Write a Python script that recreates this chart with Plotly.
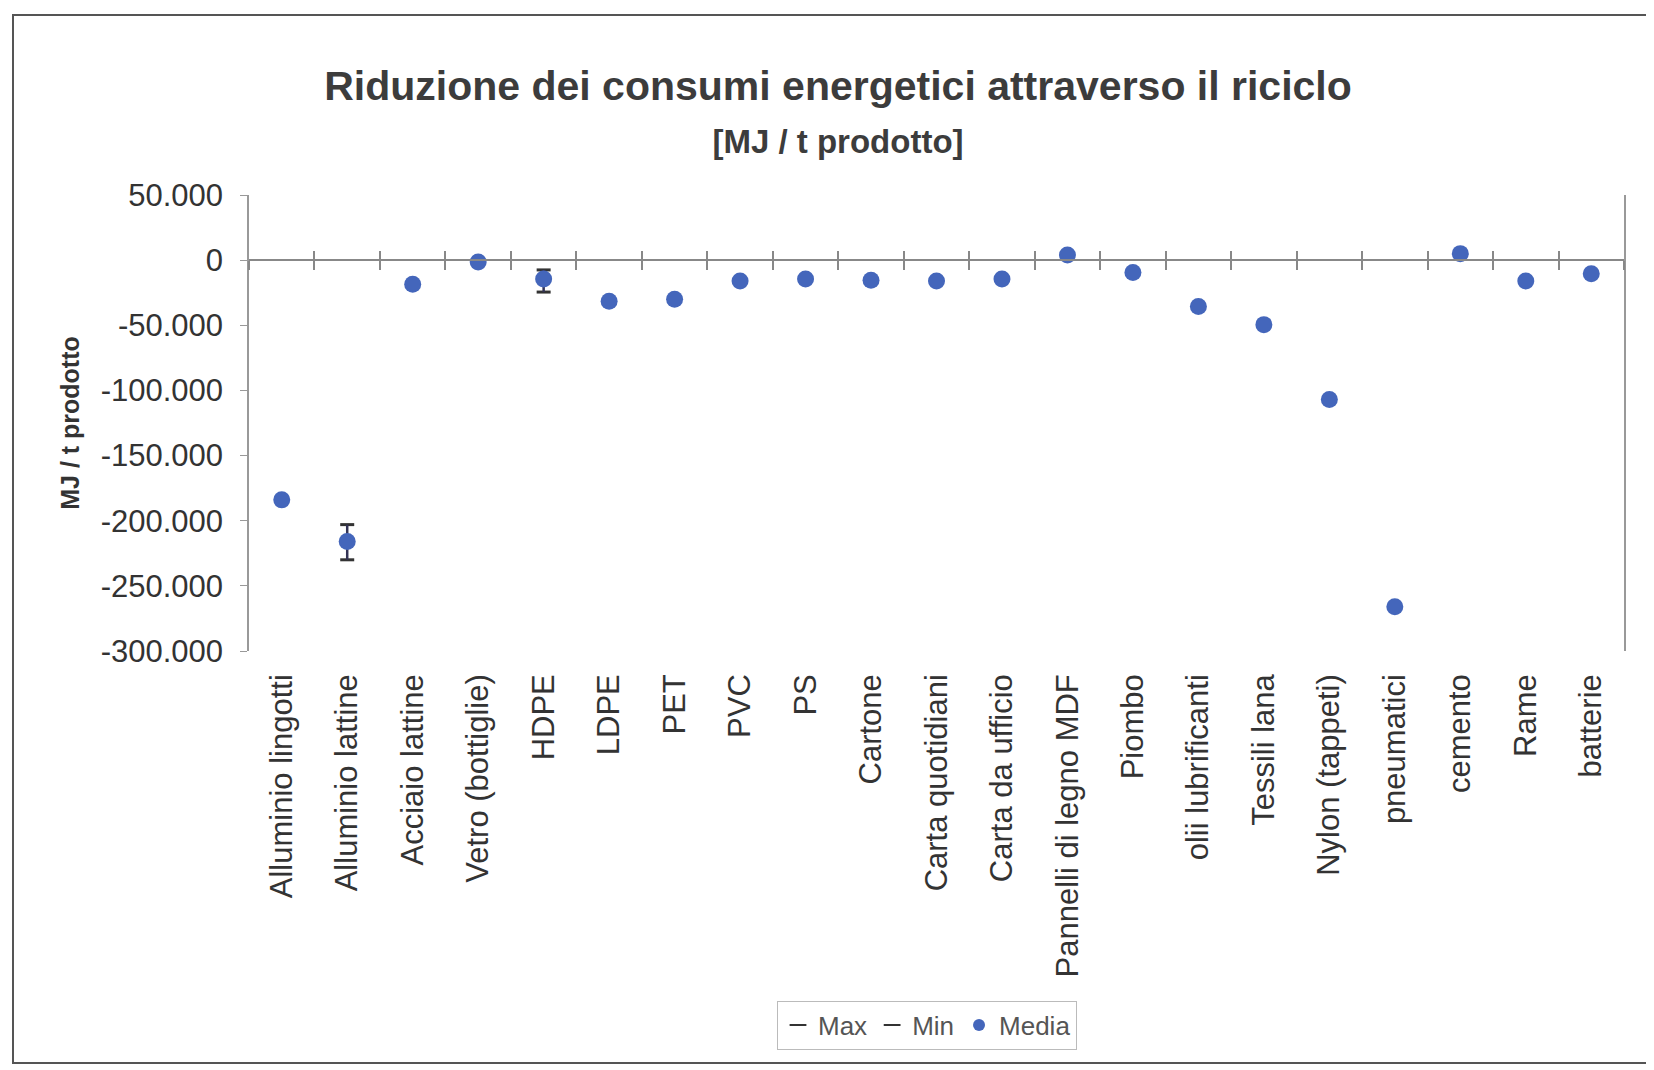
import plotly.graph_objects as go

categorie = ['Alluminio lingotti', 'Alluminio lattine', 'Acciaio lattine', 'Vetro (bottiglie)',
             'HDPE', 'LDPE', 'PET', 'PVC', 'PS', 'Cartone', 'Carta quotidiani',
             'Carta da ufficio', 'Pannelli di legno MDF', 'Piombo', 'olii lubrificanti',
             'Tessili lana', 'Nylon (tappeti)', 'pneumatici', 'cemento', 'Rame', 'batterie']
media = [-184000, -216000, -18500, -1500, -14500, -31500, -30000, -16000, -14500, -15500,
         -16000, -14500, 4000, -9500, -35500, -49500, -107000, -266000, 5000, -16000, -10500]
massimo = [-184000, -203000, -18500, -1500, -7500, -31500, -30000, -16000, -14500, -15500,
           -16000, -14500, 4000, -9500, -35500, -49500, -107000, -266000, 5000, -16000, -10500]
minimo = [-184000, -230000, -18500, -1500, -24500, -31500, -30000, -16000, -14500, -15500,
          -16000, -14500, 4000, -9500, -35500, -49500, -107000, -266000, 5000, -16000, -10500]

y_tick_vals = [50000, 0, -50000, -100000, -150000, -200000, -250000, -300000]
y_tick_text = ['50.000', '0', '-50.000', '-100.000', '-150.000', '-200.000', '-250.000', '-300.000']
y_min, y_max = -300000, 50000

FONT = 'Liberation Sans, Arial'
W, H = 1654, 1070
OFF = 8  # page body margin
L, R, T, B = 241, 38, 187, 427
pw, ph = W - L - R, H - T - B

def px_x(x):
    return (x - OFF - L) / pw

def px_y(y):
    return (H - B - (y - OFF)) / ph

err_plus = [mx - m for mx, m in zip(massimo, media)]
err_minus = [m - mn for mn, m in zip(minimo, media)]

fig = go.Figure()
fig.add_trace(go.Scatter(x=categorie, y=massimo, mode='markers', name='Max',
                         marker=dict(symbol='line-ew', size=10, line=dict(width=3, color='#333333'))))
fig.add_trace(go.Scatter(x=categorie, y=minimo, mode='markers', name='Min',
                         marker=dict(symbol='line-ew', size=10, line=dict(width=3, color='#333333'))))
fig.add_trace(go.Scatter(x=categorie, y=media, mode='markers', name='Media',
                         marker=dict(symbol='circle', size=17, color='#4466bb'),
                         error_y=dict(type='data', array=err_plus, arrayminus=err_minus,
                                      thickness=2.5, width=0, color='#333355')))
# invisible copies so the zero-crossing category axes get their categories
for ax in ['x2', 'x3']:
    fig.add_trace(go.Scatter(x=categorie, y=media, mode='markers', xaxis=ax, yaxis='y',
                             marker=dict(opacity=0), showlegend=False, hoverinfo='skip'))

zero_pos = (0 - y_min) / (y_max - y_min)
x_range = [-0.5, len(categorie) - 0.5]

fig.update_layout(
    width=W, height=H,
    margin=dict(l=L, r=R, t=T, b=B),
    paper_bgcolor='white', plot_bgcolor='white',
    font=dict(family=FONT, color='#333333'),
    title=dict(text='<b>Riduzione dei consumi energetici attraverso il riciclo</b><br>'
                    '<span style="font-size:33px"><b>[MJ / t prodotto]</b></span>',
               x=px_x(838), xanchor='center', xref='paper', y=1 - 92 / H, yanchor='top',
               font=dict(family=FONT, size=41, color='#3c3c3c')),
    xaxis=dict(type='category', categoryarray=categorie, categoryorder='array', range=x_range,
               showline=False, ticks='', showgrid=False, tickangle=-90,
               ticklabelstandoff=16, tickfont=dict(size=31, color='#333333')),
    xaxis2=dict(type='category', categoryarray=categorie, categoryorder='array',
                overlaying='x', matches='x', anchor='free', position=zero_pos,
                showline=True, linecolor='#888888', linewidth=1.5,
                ticks='outside', tickson='boundaries', ticklen=9, tickcolor='#888888',
                tickwidth=1.5, showticklabels=False, showgrid=False),
    xaxis3=dict(type='category', categoryarray=categorie, categoryorder='array',
                overlaying='x', matches='x', anchor='free', position=zero_pos,
                showline=False, ticks='inside', tickson='boundaries', ticklen=9,
                tickcolor='#888888', tickwidth=1.5, showticklabels=False, showgrid=False),
    yaxis=dict(range=[y_min, y_max], tickvals=y_tick_vals, ticktext=y_tick_text,
               showgrid=False, zeroline=False, showline=True, linecolor='#999999',
               linewidth=1.5, mirror=True, ticks='outside', ticklen=7, tickcolor='#999999',
               ticklabelstandoff=11, tickfont=dict(size=31, color='#333333'),
               title=dict(text='<b>MJ / t prodotto</b>', standoff=14,
                          font=dict(size=25, color='#333333'))),
    legend=dict(orientation='h', x=px_x(927), xanchor='center', y=px_y(1025), yanchor='middle',
                bordercolor='#bbbbbb', borderwidth=1, bgcolor='white',
                font=dict(size=26, color='#555555'), itemsizing='constant'),
    shapes=[dict(type='rect', xref='paper', yref='paper',
                 x0=px_x(13), x1=px_x(1670), y0=px_y(1063), y1=px_y(15),
                 line=dict(color='#555555', width=2), layer='below')],
)

fig.write_html('out.html')
